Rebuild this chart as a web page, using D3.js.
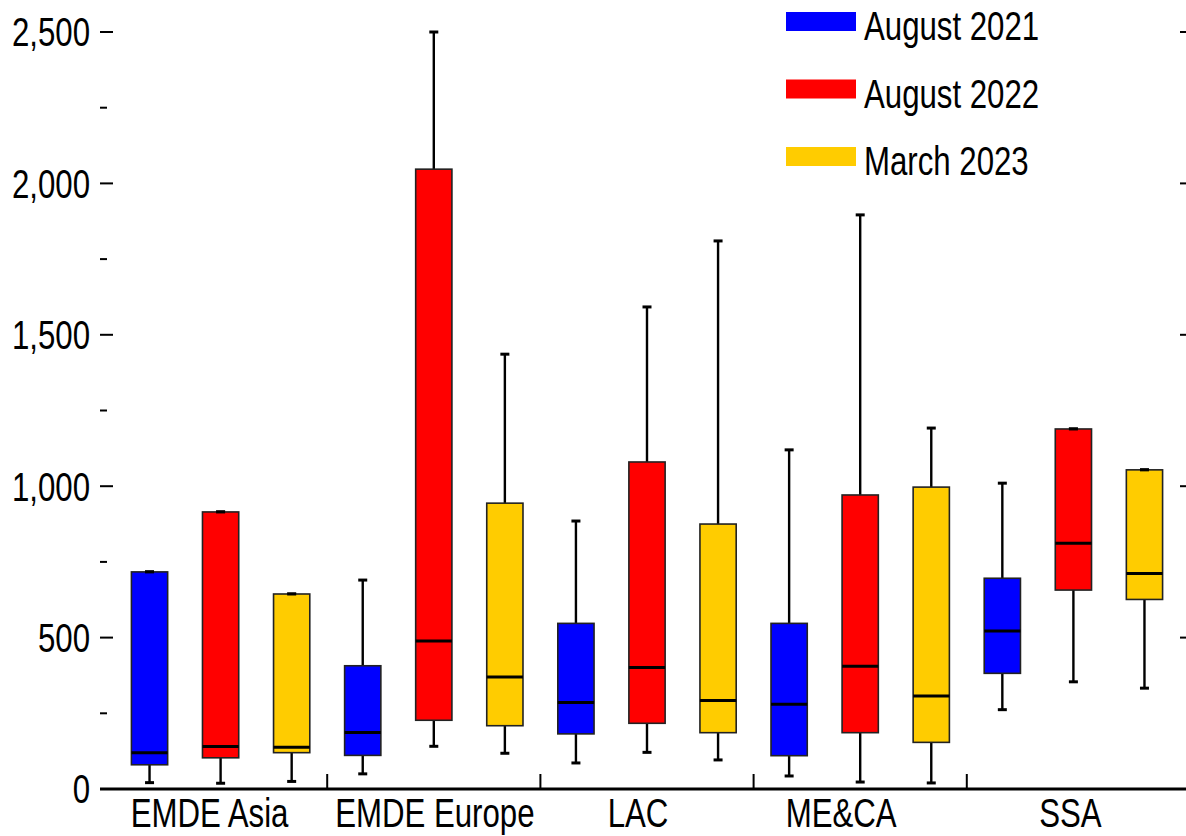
<!DOCTYPE html>
<html>
<head>
<meta charset="utf-8">
<script src="https://cdn.jsdelivr.net/npm/d3@7"></script>
<style>
  html, body { margin: 0; padding: 0; background: #fff; }
  svg text { font-family: "Liberation Sans", Arial, sans-serif; fill: #000; }
</style>
</head>
<body>
<svg id="chart" width="1186" height="836"></svg>
<script>
// Regions along the x axis
const regions = ["EMDE Asia", "EMDE Europe", "LAC", "ME&CA", "SSA"];
const seriesNames = ["August 2021", "August 2022", "March 2023"];
const seriesColors = ["#0000ff", "#ff0000", "#ffcc00"];

// Box statistics per region: [lower whisker, Q1, median, Q3, upper whisker]
const aug2021 = [
  [21, 80, 120, 717, 717],
  [50, 111, 187, 407, 690],
  [86, 182, 286, 547, 885],
  [43, 110, 280, 547, 1120],
  [262, 382, 522, 696, 1010]
];
const aug2022 = [
  [19, 103, 140, 915, 915],
  [141, 227, 489, 2047, 2500],
  [121, 217, 401, 1080, 1592],
  [23, 186, 405, 971, 1896],
  [354, 657, 812, 1189, 1189]
];
const mar2023 = [
  [25, 120, 138, 644, 644],
  [118, 209, 370, 944, 1436],
  [96, 186, 292, 875, 1810],
  [20, 154, 307, 997, 1192],
  [333, 626, 712, 1054, 1054]
];

const majorTicks = [0, 500, 1000, 1500, 2000, 2500];
const minorTicks = [250, 750, 1250, 1750, 2250];

const seriesData = [aug2021, aug2022, mar2023];

const svg = d3.select("#chart");
const W = 1186;
const NARROW = 0.78; // horizontal squeeze for a condensed sans look

const y = d3.scaleLinear().domain([0, 2500]).range([789, 32]);
const x = d3.scaleBand().domain(regions).range([114, 1180]).padding(0);
const xs = d3.scaleBand().domain(seriesNames).range([0, x.bandwidth()])
  .paddingInner(0.49).paddingOuter(0.245);

const fmt = d3.format(",");
const place = (px, py) => `translate(${px},${py}) scale(${NARROW},1)`;

// Left axis: labelled major ticks, short minor ticks, no spine
const leftAxis = svg.append("g").attr("transform", "translate(100,0)");
leftAxis.selectAll("line.major").data(majorTicks.filter(d => d > 0)).join("line")
  .attr("x1", 0).attr("x2", 13)
  .attr("y1", d => y(d)).attr("y2", d => y(d))
  .attr("stroke", "#000").attr("stroke-width", 2);
leftAxis.selectAll("line.minor").data(minorTicks).join("line")
  .attr("x1", 0).attr("x2", 7)
  .attr("y1", d => y(d)).attr("y2", d => y(d))
  .attr("stroke", "#000").attr("stroke-width", 2);
leftAxis.selectAll("text").data(majorTicks).join("text")
  .attr("transform", d => place(-10, y(d)))
  .attr("dy", "0.36em")
  .attr("text-anchor", "end")
  .attr("font-size", 40)
  .text(d => fmt(d));

// Right axis: major ticks only
svg.append("g").selectAll("line").data(majorTicks.filter(d => d > 0)).join("line")
  .attr("x1", 1180).attr("x2", W)
  .attr("y1", d => y(d)).attr("y2", d => y(d))
  .attr("stroke", "#000").attr("stroke-width", 2);

// Boxes
const groups = svg.append("g").selectAll("g.region").data(regions).join("g")
  .attr("transform", d => `translate(${x(d)},0)`);

seriesNames.forEach((s, si) => {
  const bw = xs.bandwidth();
  const cx = xs(s) + bw / 2;
  const g = groups.append("g");
  const stat = (r) => seriesData[si][regions.indexOf(r)];

  // whisker
  g.append("line")
    .attr("x1", cx).attr("x2", cx)
    .attr("y1", r => y(stat(r)[0])).attr("y2", r => y(stat(r)[4]))
    .attr("stroke", "#000").attr("stroke-width", 2.4);
  // caps
  [0, 4].forEach(k => {
    g.append("line")
      .attr("x1", cx - 4.5).attr("x2", cx + 4.5)
      .attr("y1", r => y(stat(r)[k])).attr("y2", r => y(stat(r)[k]))
      .attr("stroke", "#000").attr("stroke-width", 3);
  });
  // box
  g.append("rect")
    .attr("x", xs(s)).attr("width", bw)
    .attr("y", r => y(stat(r)[3]))
    .attr("height", r => y(stat(r)[1]) - y(stat(r)[3]))
    .attr("fill", seriesColors[si])
    .attr("stroke", "#222").attr("stroke-width", 1.6);
  // median
  g.append("line")
    .attr("x1", xs(s)).attr("x2", xs(s) + bw)
    .attr("y1", r => y(stat(r)[2])).attr("y2", r => y(stat(r)[2]))
    .attr("stroke", "#000").attr("stroke-width", 3);
  // top cap drawn over the box edge when whisker meets the box
  g.append("line")
    .attr("x1", cx - 4.5).attr("x2", cx + 4.5)
    .attr("y1", r => y(stat(r)[4])).attr("y2", r => y(stat(r)[4]))
    .attr("stroke", "#000").attr("stroke-width", 3)
    .attr("display", r => stat(r)[4] === stat(r)[3] ? null : "none");
});

// X axis baseline
svg.append("line")
  .attr("x1", 100).attr("x2", W)
  .attr("y1", y(0)).attr("y2", y(0))
  .attr("stroke", "#000").attr("stroke-width", 3);

// Region dividers
svg.append("g").selectAll("line").data(regions.slice(1)).join("line")
  .attr("x1", d => x(d)).attr("x2", d => x(d))
  .attr("y1", y(0)).attr("y2", y(0) - 15)
  .attr("stroke", "#000").attr("stroke-width", 2);

// Region labels (small per-label nudges relative to the band centre)
const labelNudge = [-11, 1, -9, -19, -3];
svg.append("g").selectAll("text").data(regions).join("text")
  .attr("transform", (d, i) => place(x(d) + x.bandwidth() / 2 + labelNudge[i], 827))
  .attr("text-anchor", "middle")
  .attr("font-size", 40)
  .text(d => d);

// Legend
const legend = svg.append("g").attr("transform", "translate(786,12)");
const lg = legend.selectAll("g").data(seriesNames).join("g")
  .attr("transform", (d, i) => `translate(0,${i * 67.5})`);
lg.append("rect")
  .attr("width", 70).attr("height", 19)
  .attr("fill", (d, i) => seriesColors[i]);
lg.append("text")
  .attr("transform", place(78, 28))
  .attr("font-size", 40)
  .text(d => d);
</script>
</body>
</html>
